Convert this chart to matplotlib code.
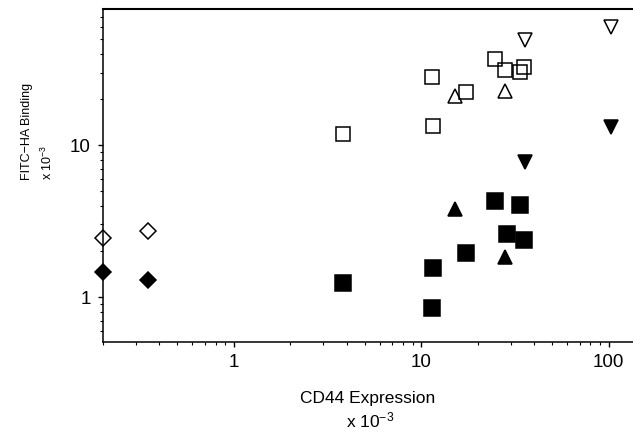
#!/usr/bin/env python3
# plot.py
# FITC-HA binding vs CD44 expression, log-log scatter
import matplotlib
matplotlib.use("Agg")
import matplotlib.pyplot as plt
from matplotlib.ticker import FixedLocator, FuncFormatter, NullFormatter, LogLocator

plt.rcParams['font.family'] = ['Liberation Sans', 'DejaVu Sans']
plt.rcParams['mathtext.default'] = 'regular'

# values (both axes x 10^-3)
open_diamond_x = [0.2, 0.35]
open_diamond_y = [2.44, 2.72]
filled_diamond_x = [0.2, 0.35]
filled_diamond_y = [1.46, 1.29]

open_square_x = [3.81, 11.4, 11.5, 17.3, 24.8, 28.1, 33.6, 35.2]
open_square_y = [11.8, 28.0, 13.3, 22.3, 36.8, 31.1, 30.2, 32.6]
filled_square_x = [3.81, 11.4, 11.5, 17.3, 24.8, 28.6, 33.6, 35.2]
filled_square_y = [1.24, 0.85, 1.55, 1.95, 4.28, 2.6, 4.03, 2.37]

open_tri_up_x = [15.1, 28.1]
open_tri_up_y = [21.0, 22.7]
filled_tri_up_x = [15.2, 28.1]
filled_tri_up_y = [3.79, 1.83]

open_tri_down_x = [35.8, 103]
open_tri_down_y = [49.1, 59.7]
filled_tri_down_x = [103, 35.8]
filled_tri_down_y = [13.1, 7.73]

x_ticks = [1, 10, 100]
y_ticks = [1, 10]


def main():
    fig = plt.figure(figsize=(6.33, 4.33), dpi=100)
    ax = fig.add_axes([0.1622, 0.2102, 0.8378, 0.769])

    ax.set_xscale('log')
    ax.set_yscale('log')
    ax.set_xlim(0.2, 135)
    ax.set_ylim(0.506, 78.5)

    common = dict(linestyle='none', color='black', markeredgewidth=1.1, clip_on=False)
    # open markers
    ax.plot(open_diamond_x, open_diamond_y, marker='D', markersize=8,
            markerfacecolor='white', **common)
    ax.plot(open_square_x, open_square_y, marker='s', markersize=10.5,
            markerfacecolor='none', **common)
    ax.plot(open_tri_up_x, open_tri_up_y, marker='^', markersize=10,
            markerfacecolor='none', **common)
    ax.plot(open_tri_down_x, open_tri_down_y, marker='v', markersize=10,
            markerfacecolor='none', **common)
    # filled markers
    ax.plot(filled_diamond_x, filled_diamond_y, marker='D', markersize=8,
            markerfacecolor='black', **common)
    ax.plot(filled_square_x, filled_square_y, marker='s', markersize=11,
            markerfacecolor='black', **common)
    ax.plot(filled_tri_up_x, filled_tri_up_y, marker='^', markersize=10,
            markerfacecolor='black', **common)
    ax.plot(filled_tri_down_x, filled_tri_down_y, marker='v', markersize=10,
            markerfacecolor='black', **common)

    # axes look
    ax.spines['right'].set_visible(False)
    ax.spines['top'].set_linewidth(1.5)
    ax.spines['left'].set_linewidth(1.1)
    ax.spines['bottom'].set_linewidth(1.1)

    fmt = FuncFormatter(lambda v, p: f"{v:g}")
    ax.xaxis.set_major_locator(FixedLocator(x_ticks))
    ax.yaxis.set_major_locator(FixedLocator(y_ticks))
    ax.xaxis.set_major_formatter(fmt)
    ax.yaxis.set_major_formatter(fmt)
    ax.xaxis.set_minor_locator(LogLocator(base=10, subs=range(2, 10)))
    ax.yaxis.set_minor_locator(LogLocator(base=10, subs=range(2, 10)))
    ax.xaxis.set_minor_formatter(NullFormatter())
    ax.yaxis.set_minor_formatter(NullFormatter())
    ax.tick_params(which='major', direction='out', length=3.5, width=1, pad=5, labelsize=13.5)
    ax.tick_params(which='minor', direction='out', length=2, width=0.8)
    ax.tick_params(top=False, right=False, which='both')

    # labels placed like the original figure
    fig.text(368 / 633, 1 - 399 / 433, 'CD44 Expression', ha='center', va='center', fontsize=12.5)
    fig.text(370 / 633, 1 - 420 / 433, 'x 10$^{-3}$', ha='center', va='center', fontsize=12.5)
    fig.text(27 / 633, 1 - 180 / 433, 'FITC\u2212HA Binding', rotation=90,
             ha='center', va='bottom', fontsize=9)
    fig.text(47 / 633, 1 - 180 / 433, 'x 10$^{-3}$', rotation=90,
             ha='center', va='bottom', fontsize=9)

    fig.savefig('out.png', dpi=100)


if __name__ == "__main__":
    main()
